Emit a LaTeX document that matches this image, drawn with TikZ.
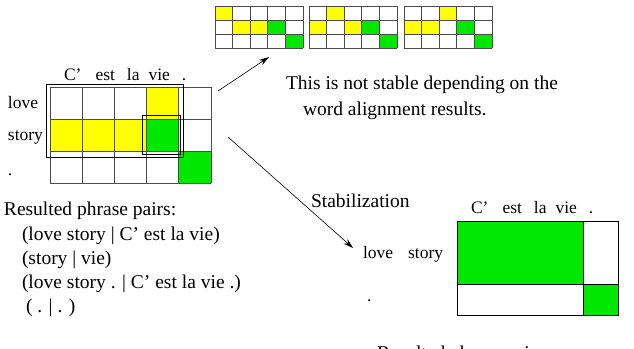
\documentclass[tikz,border=0pt]{standalone}
\usepackage{fontspec}
\setmainfont{Liberation Serif}
\usetikzlibrary{arrows.meta}

\definecolor{alignyellow}{RGB}{255,255,0}
\definecolor{aligngreen}{RGB}{0,232,0}

\tikzset{
	gridline/.style={draw=black!70,line width=0.8pt},
	yel/.style={fill=alignyellow},
	grn/.style={fill=aligngreen},
	phrasebox/.style={draw=black,line width=0.6pt},
	lbl/.style={inner sep=0,outer sep=0,anchor=base west,font=\fontsize{17.5}{21}\selectfont},
	txt/.style={inner sep=0,outer sep=0,anchor=base west,font=\fontsize{19.5}{23}\selectfont},
	arr/.style={-{Stealth[length=10pt,width=6pt]},line width=0.6pt}
}

\newcommand{\frwords}{C’\hspace{14pt}est\hspace{12pt}la\hspace{9pt}vie\hspace{12pt}.}

\begin{document}
\begin{tikzpicture}[x=1pt,y=-1pt]
	\useasboundingbox (0,0) rectangle (634,348);

	% three small alignment variants
	\begin{scope}[shift={(215,6)},x=17.6pt,y=-14pt]
		\fill[yel] (0,0) rectangle (1,1);
		\fill[yel] (1,1) rectangle (3,2);
		\fill[grn] (3,1) rectangle (4,2);
		\fill[grn] (4,2) rectangle (5,3);
		\foreach \i in {0,...,5} \draw[gridline] (\i,0) -- (\i,3);
		\foreach \j in {0,...,3} \draw[gridline] (0,\j) -- (5,\j);
	\end{scope}
	\begin{scope}[shift={(309,6)},x=17.6pt,y=-14pt]
		\fill[yel] (1,0) rectangle (2,1);
		\fill[yel] (0,1) rectangle (1,2);
		\fill[yel] (2,1) rectangle (3,2);
		\fill[grn] (3,1) rectangle (4,2);
		\fill[grn] (4,2) rectangle (5,3);
		\foreach \i in {0,...,5} \draw[gridline] (\i,0) -- (\i,3);
		\foreach \j in {0,...,3} \draw[gridline] (0,\j) -- (5,\j);
	\end{scope}
	\begin{scope}[shift={(404,6)},x=17.6pt,y=-14pt]
		\fill[yel] (2,0) rectangle (3,1);
		\fill[yel] (0,1) rectangle (2,2);
		\fill[grn] (3,1) rectangle (4,2);
		\fill[grn] (4,2) rectangle (5,3);
		\foreach \i in {0,...,5} \draw[gridline] (\i,0) -- (\i,3);
		\foreach \j in {0,...,3} \draw[gridline] (0,\j) -- (5,\j);
	\end{scope}

	% main alignment matrix
	\begin{scope}[shift={(50,87)},x=32.2pt,y=-32pt]
		\fill[yel] (3,0) rectangle (4,1);
		\fill[yel] (0,1) rectangle (3,2);
		\fill[grn] (3,1) rectangle (4,2);
		\fill[grn] (4,2) rectangle (5,3);
		\foreach \i in {0,...,5} \draw[gridline] (\i,0) -- (\i,3);
		\foreach \j in {0,...,3} \draw[gridline] (0,\j) -- (5,\j);
	\end{scope}
	\draw[phrasebox] (46,84) rectangle (183,157);
	\draw[phrasebox] (142,115) rectangle (180,154);

	\node[lbl] (frleft) at (64,80) {\frwords};
	\node[lbl] (love) at (8,108) {love};
	\node[lbl] (story) at (8,140) {story};
	\node[lbl] (dotleft) at (8,175) {.};

	% comments on the left matrix
	\node[txt] (unstable1) at (286,89) {This is not stable depending on the};
	\node[txt] (unstable2) at (303,115) {word alignment results.};

	\node[txt] (pairs) at (4,215) {Resulted phrase pairs:};
	\node[txt] (pair1) at (22,240) {(love story | C’ est la vie)};
	\node[txt] (pair2) at (22,264) {(story | vie)};
	\node[txt] (pair3) at (22,288) {(love story . | C’ est la vie .)};
	\node[txt] (pair4) at (26,312) {( . | . )};

	% stabilized matrix
	\fill[grn] (457,221) rectangle (583,284);
	\fill[grn] (583,284) rectangle (618,315);
	\draw[black,line width=0.9pt] (457,221) rectangle (618,315);
	\draw[black,line width=0.9pt] (583,221) -- (583,315);
	\draw[black,line width=0.9pt] (457,284) -- (618,284);

	\node[lbl] (frright) at (471,213) {\frwords};
	\node[lbl] (lovestory) at (363,258) {love\hspace{15pt}story};
	\node[lbl] (dotright) at (367,301) {.};
	\node[txt] (stab) at (311,207) {Stabilization};
	\node[txt] (pairsright) at (377,359) {Resulted phrase pairs:};

	% arrows
	\coordinate (fromtop) at (218,91);
	\coordinate (totop) at (269,57);
	\coordinate (fromdown) at (228,137);
	\coordinate (todown) at (353,248);
	\draw[arr] (fromtop) -- (totop);
	\draw[arr] (fromdown) -- (todown);
\end{tikzpicture}
\end{document}
